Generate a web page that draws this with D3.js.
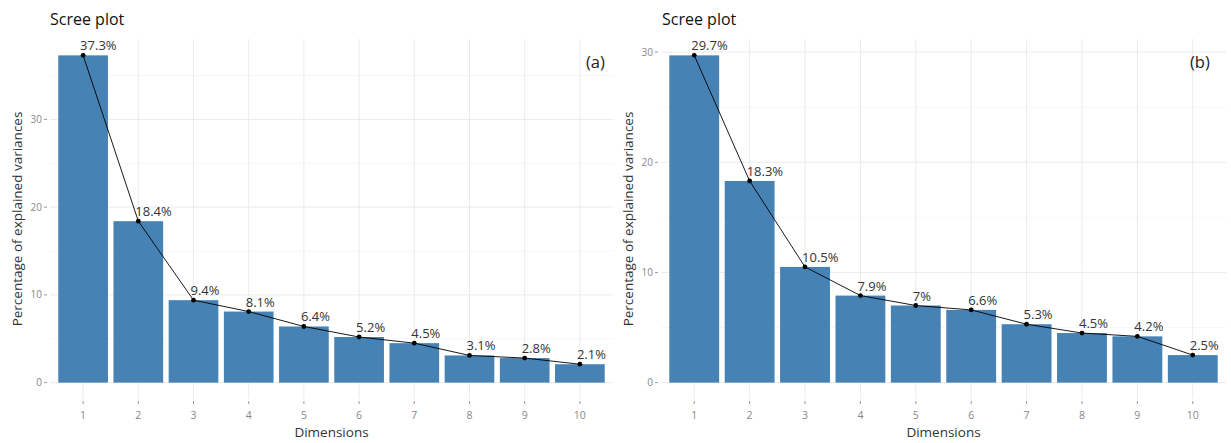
<!DOCTYPE html>
<html><head><meta charset="utf-8">
<script src="https://cdn.jsdelivr.net/npm/d3@7"></script>
<style>body{margin:0;background:#fff}svg{display:block}text{font-family:"Open Sans","Noto Sans",sans-serif}</style>
</head><body><svg id="c" width="1231" height="443"></svg>
<script>
const dimensions = ["1","2","3","4","5","6","7","8","9","10"];
const valuesA = [37.3,18.4,9.4,8.1,6.4,5.2,4.5,3.1,2.8,2.1];
const labelsA = ["37.3%","18.4%","9.4%","8.1%","6.4%","5.2%","4.5%","3.1%","2.8%","2.1%"];
const valuesB = [29.7,18.3,10.5,7.9,7.0,6.6,5.3,4.5,4.2,2.5];
const labelsB = ["29.7%","18.3%","10.5%","7.9%","7%","6.6%","5.3%","4.5%","4.2%","2.5%"];
const yTicks = [0,10,20,30];
const yMinor = [5,15,25,35];

const svg = d3.select("#c");

function panel(opt){
  const {left,right,top,bottom,values,labels,tag,titleX,yTitleX} = opt;
  const g = svg.append("g");
  const maxV = d3.max(values);
  const pad = maxV*0.05;
  const y = d3.scaleLinear().domain([-pad, maxV+pad]).range([bottom, top]);
  const n = dimensions.length;
  const x = d3.scalePoint().domain(dimensions).range([left,right]).padding(0.6);
  const step = x.step();
  const bw = step*0.9;

  yMinor.filter(v=>v<=maxV+pad).forEach(v=>{
    g.append("line").attr("x1",left).attr("x2",right).attr("y1",y(v)).attr("y2",y(v)).attr("stroke","#f2f2f2").attr("stroke-width",0.6);
  });
  yTicks.filter(v=>v<=maxV+pad).forEach(v=>{
    g.append("line").attr("x1",left).attr("x2",right).attr("y1",y(v)).attr("y2",y(v)).attr("stroke","#ebebeb").attr("stroke-width",1);
  });
  dimensions.forEach(d=>{
    g.append("line").attr("x1",x(d)).attr("x2",x(d)).attr("y1",top).attr("y2",bottom).attr("stroke","#ebebeb").attr("stroke-width",1);
  });

  g.selectAll("rect.bar").data(values).enter().append("rect")
    .attr("x",(v,i)=>x(dimensions[i])-bw/2).attr("width",bw)
    .attr("y",v=>y(v)).attr("height",v=>y(0)-y(v)).attr("fill","#4682B4");

  const line = d3.line().x((v,i)=>x(dimensions[i])).y(v=>y(v));
  g.append("path").datum(values).attr("d",line).attr("fill","none").attr("stroke","#000").attr("stroke-width",0.9);
  g.selectAll("circle.pt").data(values).enter().append("circle")
    .attr("cx",(v,i)=>x(dimensions[i])).attr("cy",v=>y(v)).attr("r",2.4).attr("fill","#000");

  g.selectAll("text.lab").data(values).enter().append("text")
    .attr("x",(v,i)=>x(dimensions[i])-3).attr("y",v=>y(v)-5)
    .attr("font-size",13).attr("fill","#333").text((v,i)=>labels[i]);

  yTicks.filter(v=>v<=maxV+pad).forEach(v=>{
    g.append("line").attr("x1",left-6).attr("x2",left-3).attr("y1",y(v)).attr("y2",y(v)).attr("stroke","#999").attr("stroke-width",1);
    g.append("text").attr("x",left-8).attr("y",y(v)).attr("dy","0.35em").attr("text-anchor","end")
      .attr("font-size",10).attr("fill","#888").text(v);
  });
  dimensions.forEach(d=>{
    g.append("line").attr("x1",x(d)).attr("x2",x(d)).attr("y1",bottom+2).attr("y2",bottom+5).attr("stroke","#999").attr("stroke-width",1);
    g.append("text").attr("x",x(d)).attr("y",bottom+20).attr("text-anchor","middle")
      .attr("font-size",10.5).attr("fill","#888").text(d);
  });
  g.append("text").attr("x",(left+right)/2).attr("y",437).attr("text-anchor","middle")
    .attr("font-size",13.5).attr("fill","#333").text("Dimensions");
  g.append("text").attr("transform",`translate(${yTitleX},${(top+bottom)/2}) rotate(-90)`)
    .attr("text-anchor","middle").attr("font-size",13.5).attr("fill","#333").text("Percentage of explained variances");
  g.append("text").attr("x",titleX).attr("y",25).attr("font-size",16).attr("fill","#111").text("Scree plot");
  g.append("text").attr("x",opt.tagX).attr("y",68).attr("font-size",16.5).attr("fill","#222").text(tag);
}

panel({left:50,right:613,top:39,bottom:399,values:valuesA,labels:labelsA,tag:"(a)",titleX:50,yTitleX:22,tagX:586});
panel({left:661,right:1226,top:39,bottom:399,values:valuesB,labels:labelsB,tag:"(b)",titleX:662,yTitleX:633,tagX:1190});
</script></body></html>
